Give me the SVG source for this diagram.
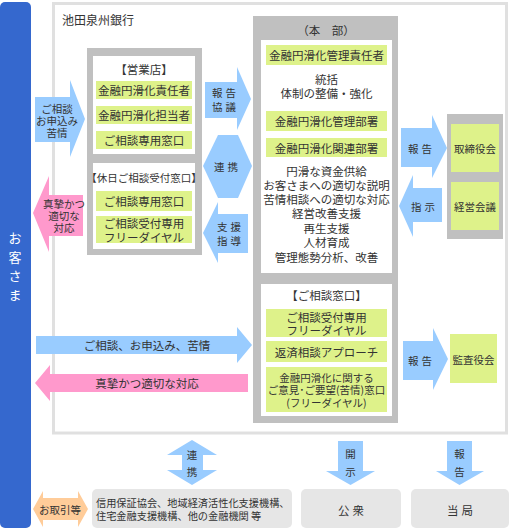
<svg xmlns="http://www.w3.org/2000/svg" width="510" height="530" viewBox="0 0 510 530">
<style>
text{font-family:"Noto Sans CJK JP","Noto Sans",sans-serif;fill:#333;dominant-baseline:central;text-anchor:middle;font-size:11.5px}
.s{font-size:10.5px}
.t{font-size:12px;text-anchor:start}
.w{fill:#fff;font-size:13px}
.g{fill:#c0c0c0}
.p{fill:#fff}
.gr{fill:#def28a}
.b{fill:#99ccff}
.k{fill:#ff99cc}
.o{fill:#ffcc99}
.lg{fill:#e6e6e6}
.ls{letter-spacing:3px}
</style>
<rect x="0" y="2" width="31" height="526" rx="5" fill="#3568ce"/>
<g id="customer"><text class="w" x="15" y="237">お</text><text class="w" x="15" y="256">客</text><text class="w" x="15" y="275">さ</text><text class="w" x="15" y="294">ま</text></g>
<g id="bank">
<rect x="53.5" y="3.5" width="453" height="429.5" fill="#fff" stroke="#e0e0e0" stroke-width="3"/>
<text class="t" x="62" y="19">池田泉州銀行</text>
</g>
<g id="branch">
<rect class="g" x="87" y="48" width="115" height="207"/>
<rect class="p" x="93" y="56" width="102" height="98"/>
<rect class="p" x="93" y="163" width="102" height="86"/>
<text x="144" y="69">【営業店】</text>
<rect class="gr" x="96" y="81" width="96" height="18"/><text x="144" y="90">金融円滑化責任者</text>
<rect class="gr" x="96" y="106" width="96" height="18"/><text x="144" y="115">金融円滑化担当者</text>
<rect class="gr" x="96" y="131" width="96" height="18"/><text x="144" y="140">ご相談専用窓口</text>
<text class="s" x="144" y="177">【休日ご相談受付窓口】</text>
<rect class="gr" x="96" y="191" width="96" height="20"/><text x="144" y="201">ご相談専用窓口</text>
<rect class="gr" x="96" y="216" width="96" height="27"/><text x="144" y="223">ご相談受付専用</text><text x="144" y="237">フリーダイヤル</text>
</g>
<g id="honbu">
<rect class="g" x="253" y="16" width="145" height="407"/>
<rect class="p" x="261" y="40" width="131" height="233"/>
<rect class="p" x="261" y="284" width="131" height="132"/>
<text x="326" y="30">（本　部）</text>
<rect class="gr" x="266" y="45" width="121" height="20"/><text x="326.5" y="55">金融円滑化管理責任者</text>
<text x="326.5" y="79">統括</text><text x="326.5" y="93">体制の整備・強化</text>
<rect class="gr" x="266" y="111" width="121" height="20"/><text x="326.5" y="121">金融円滑化管理部署</text>
<rect class="gr" x="266" y="138" width="121" height="19"/><text x="326.5" y="147.5">金融円滑化関連部署</text>
<text x="326.5" y="171">円滑な資金供給</text>
<text x="326.5" y="185">お客さまへの適切な説明</text>
<text x="326.5" y="199">苦情相談への適切な対応</text>
<text x="326.5" y="213">経営改善支援</text>
<text x="326.5" y="228">再生支援</text>
<text x="326.5" y="242">人材育成</text>
<text x="326.5" y="257">管理態勢分析、改善</text>
<text x="326.5" y="295">【ご相談窓口】</text>
<rect class="gr" x="266" y="309" width="121" height="28"/><text x="326.5" y="317">ご相談受付専用</text><text x="326.5" y="330">フリーダイヤル</text>
<rect class="gr" x="266" y="341" width="121" height="21"/><text x="326.5" y="351.5">返済相談アプローチ</text>
<rect class="gr" x="266" y="367" width="121" height="45"/><text class="s" x="326.5" y="377">金融円滑化に関する</text><text class="s" x="326.5" y="389.5">ご意見･ご要望(苦情)窓口</text><text class="s" x="326.5" y="402">(フリーダイヤル)</text>
</g>
<g id="board">
<rect class="g" x="447" y="114" width="56" height="125"/>
<rect class="gr" x="451" y="124" width="48" height="48"/><text class="s" x="475" y="148">取締役会</text>
<rect class="gr" x="451" y="182" width="48" height="48"/><text class="s" x="475" y="206">経営会議</text>
</g>
<g id="audit"><rect class="gr" x="450" y="334" width="47" height="49"/><text class="s" x="473.5" y="359">監査役会</text></g>
<g id="others"><rect class="lg" x="92" y="489" width="200" height="39" rx="5"/><text class="s" x="96" y="502" style="text-anchor:start;font-size:10.2px">信用保証協会、地域経済活性化支援機構、</text><text class="s" x="96" y="515.5" style="text-anchor:start;font-size:10.2px">住宅金融支援機構、他の金融機関 等</text></g>
<g id="public"><rect class="lg" x="301" y="489" width="100" height="39" rx="5"/><text class="ls" x="352.5" y="510">公衆</text></g>
<g id="authority"><rect class="lg" x="411" y="489" width="98" height="39" rx="5"/><text class="ls" x="461.5" y="510">当局</text></g>
<g id="connectors">
<polygon class="b" points="35,97 70,97 70,80 85,119 70,157 70,142 35,142"/>
<text class="s" x="57" y="108">ご相談</text><text class="s" x="57" y="120">お申込み</text><text class="s" x="57" y="132">苦情</text>
<polygon class="k" points="33,213 49,176 49,195 83,195 83,236 49,236 49,252"/>
<text class="s" x="64" y="203">真摯かつ</text><text class="s" x="64" y="215">適切な</text><text class="s" x="64" y="227">対応</text>
<polygon class="b" points="205,82 237,82 237,67 251,99 237,130 237,118 205,118"/>
<text class="s ls" x="225.5" y="92">報告</text><text class="s ls" x="225.5" y="106">協議</text>
<polygon class="b" points="218,135 238,135 252,166 238,198 218,198 203,166"/>
<text class="s ls" x="227.5" y="166">連携</text>
<polygon class="b" points="203,233 218,202 218,214 248,214 248,253 218,253 218,263"/>
<text class="s ls" x="230.5" y="226">支援</text><text class="s ls" x="230.5" y="240">指導</text>
<polygon class="b" points="401,128 432,128 432,115 447,148 432,178 432,167 401,167"/>
<text class="s ls" x="421.5" y="148">報告</text>
<polygon class="b" points="399,206 413,175 413,188 442,188 442,222 413,222 413,237"/>
<text class="s ls" x="424.5" y="206">指示</text>
<polygon class="b" points="403,341 433,341 433,328 448,359 433,390 433,380 403,380"/>
<text class="s ls" x="421.5" y="360">報告</text>
<polygon class="b" points="36,336 237,336 237,327 252,345 237,363 237,354 36,354"/>
<text x="147" y="345">ご相談、お申込み、苦情</text>
<polygon class="k" points="35,383 50,365 50,374 248,374 248,392 50,392 50,401"/>
<text x="147" y="383">真摯かつ適切な対応</text>
<polygon class="b" points="192,440 217,455 203,455 203,470 217,470 192,485 167,470 182,470 182,455 167,455"/>
<text class="s" x="192" y="454">連</text><text class="s" x="192" y="471">携</text>
<polygon class="b" points="338,441 363,441 363,471 375,471 350.5,485 326,471 338,471"/>
<text class="s" x="350.5" y="453">開</text><text class="s" x="350.5" y="471">示</text>
<polygon class="b" points="447,441 472,441 472,471 484,471 459.5,485 436,471 447,471"/>
<text class="s" x="459.5" y="453">報</text><text class="s" x="459.5" y="471">告</text>
<polygon class="o" points="33,509 43,491 43,498 78,498 78,491 88,509 78,527 78,520 43,520 43,527"/>
<text class="s" x="60" y="509">お取引等</text>
</g>
</svg>
